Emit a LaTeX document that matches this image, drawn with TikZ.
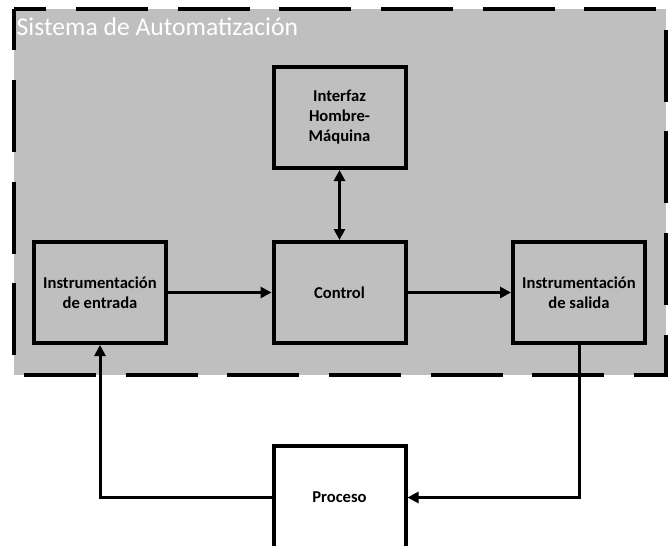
\documentclass[tikz,border=0pt]{standalone}
\usepackage{fontspec}
\setmainfont{Carlito}
\usetikzlibrary{positioning,arrows.meta}

\begin{document}
\begin{tikzpicture}[x=1pt, y=1pt, node distance=103.5pt, >={Triangle[length=11pt,width=11pt]}]
        \tikzstyle{box} = [rectangle, minimum width=132pt, minimum height=101pt, align=center, line width=4pt, draw=black, font=\fontsize{16.6}{20}\selectfont\bfseries]
        \tikzstyle{flow} = [line width=3pt]

        \useasboundingbox (0,0) rectangle (670,-546);
        \clip (0,0) rectangle (670,-546);

        \fill [black!25] (13.7,-9.3) rectangle (665.7,-375);
        \draw [line width=4pt, dash pattern=on 72pt off 29.7pt, dash phase=31pt] (13.7,-9.3) rectangle (665.7,-375);
        \node (sistema) [anchor=base west, inner sep=0pt, text=white, font=\fontsize{25.6}{30}\selectfont] at (16.5,-35) {Sistema de Automatización};

        \node (entrada) [box] at (100,-292.5) {Instrumentación\\de entrada};
        \node (control) [box, right=of entrada] {Control};
        \node (salida) [box, right=of control] {Instrumentación\\de salida};
        \node (interfaz) [box, above=70pt of control] {Interfaz\\Hombre-\\Máquina};
        \node (proceso) [box, fill=white, minimum height=103pt, below=99pt of control] {Proceso};

        \draw [->, flow] (entrada) -- (control);
        \draw [->, flow] (control) -- (salida);
        \draw [<->, flow] (interfaz) -- (control);
        \draw [->, flow] (salida) |- (proceso);
        \draw [->, flow] (proceso) -| (entrada);
\end{tikzpicture}
\end{document}
